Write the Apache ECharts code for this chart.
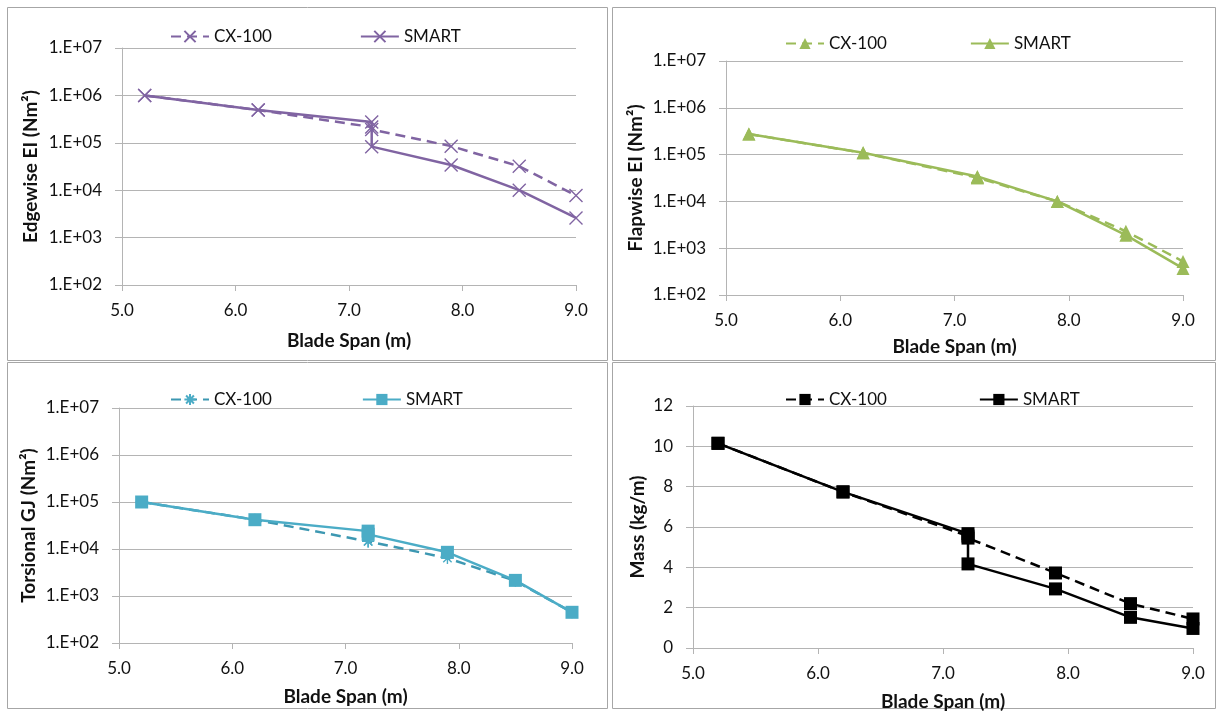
<!DOCTYPE html>
<html>
<head>
<meta charset="utf-8">
<script src="https://cdn.jsdelivr.net/npm/echarts@6/dist/echarts.min.js"></script>
<style>
  html, body { margin: 0; padding: 0; background: #fff; }
  #chart { width: 1221px; height: 715px; }
</style>
</head>
<body>
<div id="chart"></div>
<script>
// Blade span stations (m); 7.2 m appears twice because of the step in the layup
const span = [5.2, 6.2, 7.2, 7.2, 7.9, 8.5, 9.0];
const spanTicks = [5, 6, 7, 8, 9];

// Edgewise stiffness EI (Nm^2)
const edgeCX = [1.0e6, 4.9e5, 2.15e5, 1.9e5, 8.5e4, 3.2e4, 7.7e3];
const edgeSMART = [1.0e6, 4.9e5, 2.75e5, 8.3e4, 3.4e4, 1.0e4, 2.6e3];

// Flapwise stiffness EI (Nm^2)
const flapCX = [2.75e5, 1.09e5, 3.2e4, 3.2e4, 1.0e4, 2.3e3, 5.2e2];
const flapSMART = [2.75e5, 1.09e5, 3.4e4, 3.3e4, 1.0e4, 1.9e3, 3.7e2];

// Torsional stiffness GJ (Nm^2)
const torsCX = [1.0e5, 4.2e4, 1.45e4, 1.45e4, 6.4e3, 2.1e3, 4.5e2];
const torsSMART = [1.0e5, 4.2e4, 2.4e4, 2.05e4, 8.5e3, 2.15e3, 4.5e2];

// Mass per unit length (kg/m)
const massCX = [10.15, 7.74, 5.55, 5.45, 3.72, 2.2, 1.44];
const massSMART = [10.15, 7.74, 5.67, 4.17, 2.93, 1.52, 0.97];

const seriesNames = ['CX-100', 'SMART'];
const logTicks = [1e2, 1e3, 1e4, 1e5, 1e6, 1e7];
const massTicks = [0, 2, 4, 6, 8, 10, 12];

const FONT = 'Lato';
const TXT = '#111111';
const GRIDC = '#b4b4b4';

const pairs = (xs, ys) => xs.map((x, i) => [x, ys[i]]);

const CROSS = 'path://M0,0L10,10M10,0L0,10';
const STAR = 'path://M5,0L5,10M0,5L10,5M1.5,1.5L8.5,8.5M8.5,1.5L1.5,8.5';

const panels = [
  { grid: { left: 122, top: 48, width: 454, height: 237 }, legendLeft: 165, legendTop: 23, legendGap: 88,
    yName: 'Edgewise EI (Nm\u00B2)', log: true, nameGapY: 82, nameGapX: 46,
    color: '#8064A2', dashColor: '#8064A2', data: [edgeCX, edgeSMART],
    sym: [CROSS, CROSS], size: [13, 13], stroke: true },
  { grid: { left: 726, top: 61, width: 457, height: 234 }, legendLeft: 780, legendTop: 30, legendGap: 83,
    yName: 'Flapwise EI (Nm\u00B2)', log: true, nameGapY: 81, nameGapX: 42,
    color: '#9BBB59', dashColor: '#9BBB59', data: [flapCX, flapSMART],
    sym: ['triangle', 'triangle'], size: [13, 13], stroke: false },
  { grid: { left: 119, top: 408, width: 453, height: 235 }, legendLeft: 165, legendTop: 386, legendGap: 90,
    yName: 'Torsional GJ (Nm\u00B2)', log: true, nameGapY: 81, nameGapX: 44,
    color: '#4BACC6', dashColor: '#3D98B2', data: [torsCX, torsSMART],
    sym: [STAR, 'rect'], size: [12, 13], stroke: 'first' },
  { grid: { left: 693, top: 406, width: 500, height: 242 }, legendLeft: 780, legendTop: 386, legendGap: 92,
    yName: 'Mass (kg/m)', log: false, nameGapY: 46, nameGapX: 44,
    color: '#000000', dashColor: '#000000', data: [massCX, massSMART],
    sym: ['rect', 'rect'], size: [13, 13], stroke: false }
];

const grids = [], xAxes = [], yAxes = [], legends = [], series = [];

panels.forEach((p, i) => {
  grids.push(Object.assign({ containLabel: false }, p.grid));

  xAxes.push({
    gridIndex: i, type: 'value', min: spanTicks[0], max: spanTicks[spanTicks.length - 1], interval: 1,
    name: 'Blade Span (m)', nameLocation: 'middle', nameGap: p.nameGapX,
    nameTextStyle: { fontFamily: FONT, fontWeight: 'bold', fontSize: 19, color: TXT },
    axisLine: { show: true, onZero: false, lineStyle: { color: GRIDC, width: 1 } },
    axisTick: { show: true, inside: false, length: 6, lineStyle: { color: GRIDC } },
    axisLabel: { margin: 17, fontFamily: FONT, fontSize: 17, color: TXT,
      formatter: v => v.toFixed(1) },
    splitLine: { show: false }
  });

  const yBase = {
    gridIndex: i,
    name: p.yName, nameLocation: 'middle', nameRotate: 90, nameGap: p.nameGapY,
    nameTextStyle: { fontFamily: FONT, fontWeight: 'bold', fontSize: 19, color: TXT },
    axisLine: { show: true, lineStyle: { color: GRIDC, width: 1 } },
    axisTick: { show: true, inside: false, length: 7, lineStyle: { color: GRIDC } },
    splitLine: { show: true, lineStyle: { color: GRIDC, width: 1 } },
    axisLabel: { margin: 20, fontFamily: FONT, fontSize: 17, color: TXT }
  };
  if (p.log) {
    yAxes.push(Object.assign(yBase, {
      type: 'log', logBase: 10, min: logTicks[0], max: logTicks[logTicks.length - 1],
      axisLabel: Object.assign(yBase.axisLabel, {
        formatter: v => {
          const e = Math.round(Math.log10(v));
          return '1.E+' + String(e).padStart(2, '0');
        }
      })
    }));
  } else {
    yAxes.push(Object.assign(yBase, {
      type: 'value', min: massTicks[0], max: massTicks[massTicks.length - 1], interval: 2
    }));
  }

  legends.push({
    left: p.legendLeft, top: p.legendTop, orient: 'horizontal',
    itemWidth: 38, itemHeight: 14, itemGap: p.legendGap,
    textStyle: { fontFamily: FONT, fontSize: 17, color: TXT },
    data: seriesNames.map(n => n + '\u200B'.repeat(i))
  });

  seriesNames.forEach((name, k) => {
    const dashed = k === 0;
    const lineColor = dashed ? p.dashColor : p.color;
    const strokeSym = p.stroke === true || (p.stroke === 'first' && k === 0);
    series.push({
      type: 'line',
      name: name + '\u200B'.repeat(i),
      xAxisIndex: i, yAxisIndex: i,
      data: pairs(span, p.data[k]),
      clip: false,
      symbol: p.sym[k],
      symbolSize: p.size[k],
      symbolKeepAspect: true,
      showAllSymbol: true,
      lineStyle: { color: lineColor, width: 2.5, type: dashed ? [10, 6] : 'solid' },
      itemStyle: strokeSym
        ? { color: 'rgba(0,0,0,0)', borderColor: p.color, borderWidth: 1.4 }
        : { color: p.color, borderWidth: 0 },
      emphasis: { disabled: true },
      z: dashed ? 3 : 4,
      animation: false
    });
  });
});

// panel frames
const frameStyle = { fill: 'none', stroke: '#a6a6a6', lineWidth: 1 };
const frames = [
  [7.5, 7.5, 600, 353], [612.5, 7.5, 603, 353],
  [7.5, 362.5, 600, 346], [612.5, 362.5, 603, 346]
].map(r => ({ type: 'rect', shape: { x: r[0], y: r[1], width: r[2], height: r[3] }, style: frameStyle, silent: true, z: -1 }));

const chart = echarts.init(document.getElementById('chart'), null, { renderer: 'canvas' });
chart.setOption({
  animation: false,
  backgroundColor: '#ffffff',
  grid: grids,
  xAxis: xAxes,
  yAxis: yAxes,
  legend: legends,
  series: series,
  graphic: frames,
  tooltip: { show: false }
});
</script>
</body>
</html>
